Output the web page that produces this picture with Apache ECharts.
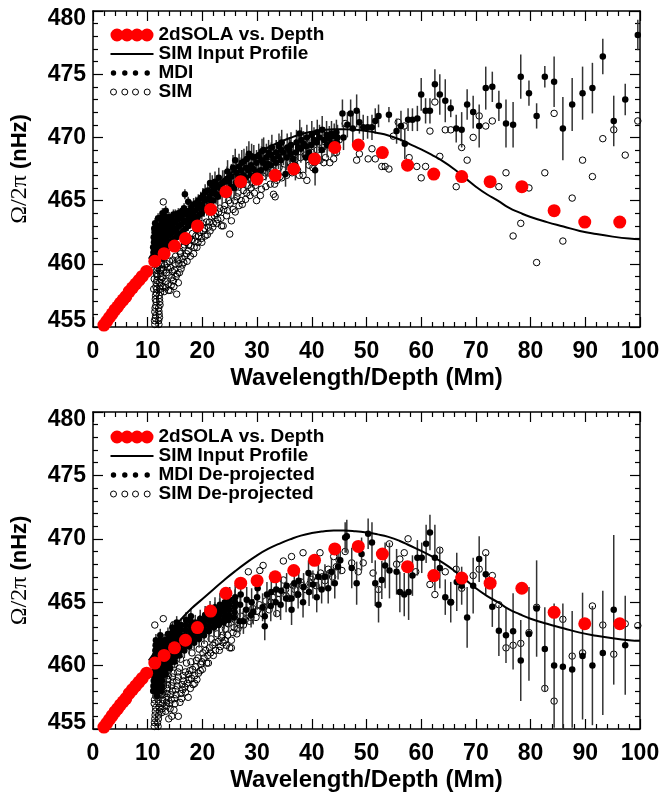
<!DOCTYPE html>
<html><head><meta charset="utf-8">
<script src="https://cdn.jsdelivr.net/npm/echarts@6/dist/echarts.min.js"></script>
<style>html,body{margin:0;padding:0;background:#fff}#c{width:663px;height:793px}</style>
</head><body><div id="c"></div>
<script>
// ---- data ----
const solaDepth = [2.0,2.5,3.0,3.5,4.0,4.5,5.0,5.5,6.0,6.6,7.2,7.8,8.4,9.0,9.8,11.3,13.0,14.9,16.9,19.1,21.5,24.3,27.0,30.0,33.3,36.7,40.5,44.2,48.5,52.9,57.5,62.3,67.4,72.6,78.4,84.3,89.9,96.3];
const solaOmega = [455.15,455.45,455.75,456.05,456.35,456.6,456.9,457.15,457.4,457.8,458.1,458.4,458.7,459.0,459.4,460.2,460.8,461.4,462.0,463.0,464.3,465.7,466.5,466.7,467.0,467.5,468.3,469.2,469.4,468.8,467.8,467.1,466.9,466.5,466.1,464.2,463.3,463.3];

const profileDepth = [10.2,12,14,16,18,20,22,24,26,28,30,32,34,36,38,40,42,44,46,48,50,52,54,56,58,60,62,64,66,68,70,72,74,76,78,80,83,86,89,92,95,98,100];
const profileOmega = [460.4,461.45,462.55,463.6,464.5,465.25,466.0,466.75,467.45,468.1,468.7,469.2,469.6,469.95,470.25,470.45,470.58,470.65,470.65,470.6,470.5,470.35,470.15,469.85,469.45,469.05,468.6,468.1,467.5,466.8,466.1,465.5,465.0,464.45,464.05,463.7,463.3,462.95,462.6,462.35,462.15,462.0,461.95];

// [depth, omega, error]
const mdiTop = [
[10.9,460.5,.4],[11.0,461.3,.4],[11.1,462.1,.4],[11.2,462.8,.4],[11.5,460.2,.4],[11.6,461.0,.4],[11.7,461.8,.4],[11.8,462.6,.4],[11.9,463.6,.4],[12.2,460.6,.4],[12.3,461.4,.4],[12.4,462.2,.4],[12.5,463.0,.4],[12.6,463.7,.4],[12.9,461.0,.4],[13.0,461.8,.4],[13.1,462.6,.4],[13.2,463.3,.4],[13.3,464.2,.4],[13.6,461.4,.4],[13.7,462.2,.4],[13.8,463.0,.4],[13.9,463.7,.4],[14.4,461.8,.4],[14.5,462.5,.4],[14.6,463.2,.4],[14.7,463.9,.4],[15.2,462.1,.4],[15.3,462.8,.4],[15.4,463.5,.4],[15.6,464.0,.4],[16.0,462.4,.4],[16.1,463.1,.4],[16.2,463.7,.4],[16.3,464.2,.4],[16.8,465.5,.4],[16.9,462.8,.4],[17.0,463.4,.4],[17.1,464.0,.4],[17.4,464.9,.4],[17.8,463.2,.4],[17.9,463.8,.4],[18.0,464.5,.5],[18.6,463.6,.5],[18.7,464.2,.5],[18.8,464.8,.5],[19.5,463.9,.5],[19.6,464.6,.5],[19.7,465.2,.5],[20.3,464.3,.6],[20.4,465.0,.6],[20.5,465.7,.6],
[11.05,460.9,.4],[11.15,461.7,.4],[11.25,462.5,.4],[11.35,463.2,.4],[11.55,460.6,.4],[11.65,461.4,.4],[11.75,462.2,.4],[11.85,463.0,.4],[12.05,460.3,.4],[12.25,461.0,.4],[12.35,461.8,.4],[12.45,462.6,.4],[12.55,463.3,.4],[12.7,464.0,.4],[12.75,460.4,.4],[12.95,461.4,.4],[13.05,462.2,.4],[13.15,463.0,.4],[13.25,463.7,.4],[13.45,461.0,.4],[13.55,461.8,.4],[13.75,462.6,.4],[13.85,463.4,.4],[14.1,461.6,.4],[14.2,462.3,.4],[14.3,463.0,.4],[14.35,463.6,.4],[14.85,461.9,.4],[14.95,462.6,.4],[15.0,463.3,.4],[15.05,463.9,.4],[15.6,462.3,.4],[15.7,463.0,.4],[15.8,463.6,.4],[16.5,462.6,.4],[16.55,463.3,.4],[16.6,463.9,.4],[16.65,464.4,.4],[17.4,463.0,.4],[17.5,463.6,.4],[17.55,464.2,.4],[18.2,463.4,.5],[18.3,464.0,.5],[18.4,464.7,.5],[19.1,463.7,.5],[19.2,464.4,.5],[19.25,465.0,.5],[19.9,464.0,.5],[20.0,464.7,.5],[20.1,465.4,.6],[20.8,464.4,.6],[20.9,465.1,.6],[21.0,465.8,.7],[21.6,465.0,.7],[21.7,465.6,.7],[21.8,466.2,.8],[22.5,465.5,.8],[22.6,466.2,.8],
[21.2,464.6,.7],[21.3,465.3,.8],[21.4,466.4,.8],[22.0,465.0,.8],[22.1,465.8,.8],[22.3,466.5,.8],[22.8,465.3,.9],[22.9,466.1,.9],[23.0,466.8,.8],[23.6,465.6,.9],[23.7,466.4,1],[24.4,465.9,1],[24.5,466.7,1],[24.6,467.3,.9],[25.2,466.1,1],[25.3,466.9,1],[26.0,468.2,.9],[26.1,466.4,1],[26.2,467.2,1],[27.0,466.6,1],[27.1,467.4,1],[27.2,468.0,1],[27.9,466.8,1],[28.0,467.6,1.1],[28.1,468.3,1],[28.8,467.0,1],[28.9,467.8,1.1],[29.0,468.5,1],[29.8,467.2,1],[29.9,468.0,1],[30.7,467.4,1],[30.8,468.2,1.1],[30.9,468.9,1],[31.6,467.6,1],[31.7,468.4,1.1],[32.5,467.8,1.1],[32.6,468.6,1],[32.7,469.2,1],[33.4,468.0,1.1],[33.5,468.8,1],[34.3,468.2,1],[34.4,469.0,1.1],[34.5,469.6,1],[35.2,467.1,1],[35.4,468.4,1],[35.5,469.2,1.1],[36.1,468.7,1.1],[36.2,469.4,1],[37.0,467.8,1.2],[37.1,468.8,1.1],[37.2,469.6,1],[37.8,470.3,1.1],[38.0,469.1,1.1],[38.1,469.8,1],[38.9,468.4,1.2],[39.0,469.3,1.1],[39.1,470.0,1],[39.9,469.4,1],[40.0,470.2,1.1],[40.6,467.4,1.2],[40.9,469.6,1],[41.0,470.4,1],[41.8,469.0,1],[41.9,470.6,1.1],[42.7,470.2,1.1],[42.8,469.4,1],[43.6,470.3,1],[43.7,469.5,1],[44.5,470.4,1],[44.6,469.6,1.1],[44.7,470.0,1],[45.8,470.0,1],[46.5,471.0,1],[47.5,470.7,1.2],
[23.3,466.0,.9],[24.0,466.5,.9],[24.9,466.5,1],[25.6,467.6,1],[25.8,466.0,1],[26.6,466.9,1],[26.7,467.7,1],[27.5,467.0,1],[27.6,468.1,1],[28.4,467.4,1],[28.5,468.7,1],[29.3,467.5,1],[29.4,468.4,1],[30.2,467.3,1],[30.3,468.5,1],[31.1,468.0,1],[31.2,469.0,1],[32.0,467.9,1],[32.1,468.8,1],[33.0,468.3,1],[33.9,468.5,1],[34.0,469.3,1],[34.8,468.8,1],[35.9,469.0,1],[36.6,468.3,1],[37.5,469.2,1],[38.5,469.5,1],[39.5,468.8,1],[40.4,469.8,1],[41.4,470.0,1],[42.3,469.8,1],[43.2,469.9,1],[44.1,470.1,1],
[45.6,471.9,1.1],[47.1,471.9,1.1],[48.2,472.1,1.3],[48.7,471.2,0.9],[49.4,470.8,1.0],[50.2,470.8,0.9],[51.0,470.8,1.0],[51.6,471.3,1.0],[52.2,471.7,0.9],[54.1,471.8,0.6],[55.5,470.5,1.0],[56.3,470.9,1.2],[57.0,469.5,1.2],[57.6,471.4,0.9],[58.4,471.4,0.9],[59.3,471.5,1.0],[60.0,473.4,1.3],[60.8,472.1,1.0],[61.6,472.1,1.0],[62.5,474.2,1.2],[63.4,473.4,1.6],[64.4,472.9,1.7],[65.4,472.3,0.7],[66.4,470.7,1.1],[67.4,470.6,1.4],[68.4,472.6,1.2],[69.5,472.0,1.3],[70.6,470.9,1.7],[71.8,473.9,1.7],[73.0,474.0,1.2],[74.2,472.5,1.2],[75.5,471.1,1.9],[76.8,471.0,1.8],[78.2,474.8,1.75],[79.7,473.5,1.0],[81.1,471.7,1.0],[82.6,474.8,0.85],[84.3,474.4,2.0],[85.9,470.7,2.5],[87.6,472.6,2.1],[89.5,473.5,2.1],[91.3,473.9,2.0],[93.2,476.4,1.4],[95.2,471.3,2.0],[97.3,473.0,1.25],[99.6,478.1,1.2]
];

const simTop = [
[11.3,455.2],[11.4,455.7],[11.3,456.2],[11.5,456.7],[11.4,457.2],[11.6,457.7],[11.5,458.2],[11.7,458.7],[11.6,459.2],[11.8,459.7],[12.0,455.5],[12.1,456.0],[12.0,456.5],[12.2,457.0],[12.1,457.5],[12.3,458.0],[12.2,458.5],[12.4,459.0],[12.3,459.5],[12.5,460.0],[12.85,464.9],
[11.25,455.5],[11.45,455.9],[11.35,456.5],[11.55,457.0],[11.45,457.5],[11.65,458.0],[11.55,458.5],[11.75,459.0],[11.65,459.5],[11.9,459.9],[11.1,459.5],[11.2,458.8],[11.1,458.0],[12.05,455.2],[12.15,455.75],[12.05,456.25],[12.25,456.75],[12.15,457.25],[12.35,457.75],[12.25,458.25],[12.45,458.75],[12.35,459.25],[12.55,459.6],[12.7,458.9],[12.9,459.5],[13.1,459.9],[13.3,458.1],[13.6,459.7],[13.8,457.9],[14.0,460.2],[14.3,458.3],[14.5,459.4],[14.8,458.2],[15.0,460.0],[15.2,459.0],[15.5,460.3],[15.8,459.3],[16.0,460.8],[16.3,459.9],[16.6,460.1],[16.7,461.5],[17.1,460.8],[17.5,461.5],[17.8,460.6],[18.0,461.9],[18.5,461.3],[18.8,462.2],[19.2,461.7],[19.5,462.5],[19.8,462.0],[20.0,463.2],[20.4,462.8],[20.9,462.3],[21.3,463.3],[21.9,462.9],[22.2,463.8],[22.6,463.2],[23.0,464.1],[23.4,463.6],[23.9,464.3],[24.6,464.2],[25.1,464.8],[25.9,465.0],[26.5,465.6],[27.3,464.7],[28.1,465.6],[28.9,466.0],[29.7,466.2],[30.6,465.4],[31.4,467.2],[33.2,466.3],[34.2,466.9],[36.2,467.7],[37.7,467.0],[40.2,467.6],[42.2,468.0],[44.0,468.3],
[12.8,458.2],[13.0,457.8],[13.2,458.6],[13.4,459.3],[13.5,460.0],[13.7,458.4],[13.9,459.1],[14.1,457.9],[14.2,459.7],[14.4,458.9],[14.6,460.3],[14.7,458.65],[14.9,459.5],[15.1,460.6],[15.3,457.6],[15.4,459.2],[15.6,458.5],[15.7,460.0],[15.9,461.0],[16.1,459.6],[16.3,460.4],[16.5,461.3],[16.8,460.6],[17.0,461.7],[17.2,460.2],[17.4,461.0],[17.6,462.0],[17.9,461.4],[18.2,462.4],[18.4,460.8],[18.6,461.8],[18.9,462.7],[19.0,461.3],[19.3,462.2],[19.6,463.0],[19.9,461.7],[20.2,462.6],[20.5,462.2],[20.7,463.3],[21.1,462.9],[21.4,462.6],[21.7,463.7],[22.0,463.2],[22.4,464.0],[22.8,463.5],[23.2,464.4],[23.5,463.0],[23.8,463.0],[24.1,464.6],[24.4,463.8],[24.8,465.0],[25.0,462.35],[25.3,463.4],[25.6,464.3],[26.0,464.1],[26.3,465.3],[26.7,464.6],[27.1,465.0],[27.5,465.8],[27.9,465.1],[28.3,466.2],[28.7,465.4],[29.1,466.4],[29.5,465.6],[29.9,465.0],[30.2,466.7],[30.5,468.6],[30.8,465.9],[31.2,466.9],[31.6,466.1],[31.8,468.4],[32.0,467.2],[32.4,466.3],[32.8,467.4],[33.0,465.5],[33.3,465.3],[33.6,466.6],[34.0,467.6],[34.5,466.8],[35.0,467.9],[35.4,467.0],[35.9,468.0],[36.4,467.2],[36.9,468.2],[37.4,467.4],[37.9,468.4],[38.4,467.0],[38.8,468.6],[39.1,466.6],[39.5,467.8],[39.7,469.8],[40.0,468.8],[40.5,468.0],[41.0,469.0],[41.5,468.2],[42.0,469.2],[42.5,468.4],[43.0,469.4],[43.3,468.0],[43.9,469.5],[44.5,468.8],[45.0,469.8],
[46.1,471.1],[48.2,468.2],[48.7,468.7],[50.3,468.3],[51.0,469.1],[51.6,468.3],[52.8,467.7],[53.4,467.7],[54.1,467.5],[54.9,470.1],[55.8,471.2],[56.9,470.9],[57.8,468.4],[59.2,467.7],[60.0,466.8],[60.8,467.7],[61.6,470.5],[62.5,472.8],[63.4,468.5],[64.4,470.6],[65.4,470.6],[66.4,466.1],[67.4,469.2],[68.4,468.2],[69.5,470.0],[70.6,471.7],[71.8,470.9],[73.0,471.3],[74.2,466.1],[75.5,467.2],[76.8,462.2],[78.2,463.2],[79.7,466.0],[81.1,460.1],[82.6,467.2],[84.3,471.9],[85.9,461.8],[87.6,465.2],[89.5,468.2],[91.3,466.9],[93.2,469.9],[95.2,470.6],[97.3,468.6],[99.6,471.3]
];

const mdiBottom = [
[11.0,458.0,.5],[11.1,458.8,.5],[11.2,459.6,.5],[11.3,460.4,.5],[11.4,461.2,.5],[11.5,462.0,.5],[11.7,457.6,.5],[11.8,458.4,.5],[11.9,459.2,.5],[12.0,460.0,.5],[12.1,460.8,.5],[12.2,461.6,.5],[12.3,462.4,.5],[12.5,458.0,.5],[12.6,458.8,.5],[12.7,459.6,.5],[12.8,460.4,.5],[12.9,461.2,.5],[13.0,462.0,.5],[13.3,459.3,.5],[13.4,460.1,.5],[13.5,460.9,.5],[13.6,461.7,.5],[13.7,462.5,.5],[14.1,459.8,.5],[14.2,460.6,.5],[14.3,461.4,.5],[14.4,462.2,.5],[14.5,463.0,.5],[14.9,460.3,.5],[15.0,461.1,.5],[15.1,461.9,.5],[15.2,462.7,.5],[15.3,463.4,.5],[15.8,460.8,.5],[15.9,461.6,.5],[16.0,462.4,.5],[16.1,463.2,.5],[16.7,461.2,.6],[16.8,462.0,.6],[16.9,462.8,.6],[17.0,463.6,.6],[17.6,461.5,.6],[17.7,462.3,.6],[17.8,463.1,.6],[17.9,463.9,.6],[18.5,461.8,.6],[18.6,462.6,.6],[18.7,463.4,.6],[19.4,462.1,.7],[19.5,462.9,.7],[19.6,463.7,.7],[20.3,462.4,.7],[20.4,463.2,.7],[20.5,464.0,.7],[21.2,462.7,.8],[21.3,463.5,.8],[21.4,464.3,.8],[22.1,463.0,.8],[22.2,463.8,.8],[22.3,464.6,.8],[23.0,463.2,.9],[23.1,464.0,.9],[23.2,464.8,.9],[23.9,463.4,.9],[24.0,464.2,.9],[24.1,465.0,.9],[24.8,463.6,1],[24.9,464.4,1],[25.0,465.2,1],[25.8,463.8,1],[25.9,464.6,1],[26.0,465.4,1],[26.8,463.5,1],[26.9,464.8,1],[27.0,465.6,1],[27.5,463.5,1],[28.0,464.4,1],[28.1,465.2,1],[28.9,464.0,1],[29.0,465.0,1.1],[29.3,464.25,1],[30.0,465.4,1],[30.1,466.1,1],[31.0,464.6,1.1],[31.4,463.1,1.1],[31.4,463.9,1],[31.8,465.6,1],[32.5,464.7,1.2],[32.6,465.8,1],[33.4,465.0,1.1],[33.5,466.0,1],[34.3,464.8,1.2],[34.4,465.9,1],[35.3,465.3,1.1],[35.4,466.3,1],[36.3,465.3,1.1],[36.3,464.4,1.2],[36.8,466.5,1],[37.5,465.6,1.1],[37.6,466.7,1],[38.4,465.0,1.2],[38.5,466.2,1.1],[39.4,467.3,1],[39.5,465.8,1.1],[40.2,466.4,1.1],[40.9,465.4,1.2],[41.2,467.0,1],[41.8,466.0,1.1],[42.4,467.0,1],[43.0,466.1,1.2],[43.6,467.4,1.1],[44.2,466.5,1.2],[44.8,467.8,1],[45.2,468.3,1.1],
[11.05,458.4,.5],[11.15,459.2,.5],[11.25,460.0,.5],[11.35,460.8,.5],[11.45,461.6,.5],[11.75,458.0,.5],[11.85,458.8,.5],[11.95,459.6,.5],[12.05,460.4,.5],[12.15,461.2,.5],[12.25,462.0,.5],[12.55,458.4,.5],[12.65,459.2,.5],[12.75,460.0,.5],[12.85,460.8,.5],[12.95,461.6,.5],[13.35,459.7,.5],[13.45,460.5,.5],[13.55,461.3,.5],[13.65,462.1,.5],[14.15,460.2,.5],[14.25,461.0,.5],[14.35,461.8,.5],[14.45,462.6,.5],[14.95,460.7,.5],[15.05,461.5,.5],[15.15,462.3,.5],[15.25,463.0,.5],[15.85,461.2,.5],[15.95,462.0,.5],[16.05,462.8,.5],[16.75,461.6,.6],[16.85,462.4,.6],[16.95,463.2,.6],[17.65,461.9,.6],[17.75,462.7,.6],[17.85,463.5,.6],[18.55,462.2,.6],[18.65,463.0,.6],[19.45,462.5,.7],[19.55,463.3,.7],[20.35,462.8,.7],[20.45,463.6,.7],[21.25,463.1,.8],[21.35,463.9,.8],[22.15,463.4,.8],[22.25,464.2,.8],[23.05,463.6,.9],[23.15,464.4,.9],[24.0,463.8,.9],[24.05,464.6,.9],[24.85,464.0,1],[24.95,464.8,1],[25.9,464.2,1],[25.95,465.0,1],
[46.1,470.1,1.2],[46.4,470.2,1.3],[47.3,467.7,1.6],[48.2,466.5,1.7],[49.1,468.8,1.3],[50.3,470.4,1.2],[51.0,469.7,1.6],[51.6,466.5,1.8],[52.2,464.8,1.4],[52.8,466.75,1.5],[53.4,467.9,1.8],[54.2,467.5,2.2],[55.5,467.4,1.8],[56.1,465.8,1.6],[56.9,465.6,1.7],[57.7,465.8,2.2],[58.4,467.1,1.6],[59.3,468.5,1.4],[60.1,468.5,1.2],[60.9,469.6,1.5],[61.6,470.5,1.4],[62.5,468.5,2.6],[63.4,467.7,1.6],[64.4,465.4,1.4],[65.4,465.0,1.6],[66.5,466.6,2.3],[67.4,466.3,1.5],[68.4,463.8,2.4],[69.5,466.3,2.2],[70.6,468.4,1.8],[71.8,467.2,1.6],[73.0,464.65,1.6],[74.2,462.75,2.0],[75.5,462.4,2.2],[76.8,462.7,3.0],[78.2,460.4,3.2],[79.7,462.5,3.7],[81.1,464.5,3.8],[82.6,461.3,3.3],[84.3,460.0,4.9],[85.9,459.9,5.0],[87.6,459.7,4.6],[89.5,460.75,5.0],[91.3,460.0,4.7],[93.2,461.0,4.9],[95.2,464.4,5.9],[97.3,461.6,3.9]
];

const simBottom = [
[11.2,455.2],[11.3,455.8],[11.4,456.4],[11.2,457.0],[11.5,457.6],[11.3,458.2],[11.6,458.8],[11.4,459.4],[11.7,460.0],[11.5,460.6],[11.3,463.2],[11.8,455.5],[12.0,456.1],[12.1,456.7],[11.9,457.3],[12.2,457.9],[12.0,458.5],[12.3,459.1],[12.1,459.7],[12.4,460.3],[12.2,461.0],[12.85,463.7],[12.6,456.3],[12.7,457.0],[12.8,457.7],[12.9,458.4],[13.0,459.1],[13.1,459.8],[13.2,460.5],[13.4,456.8],[13.5,457.5],[13.6,458.2],[13.7,458.9],[13.8,459.6],[13.9,460.3],[14.1,456.6],[14.3,457.3],[14.4,456.0],[14.5,458.0],[14.6,458.7],[14.7,459.4],[14.7,463.2],[14.9,460.1],[15.0,457.0],[15.2,457.7],[15.4,458.4],[15.6,456.0],[15.6,459.1],[15.8,459.8],[16.0,460.5],[16.2,457.4],[16.4,458.1],[16.6,458.8],[16.8,458.3],[16.9,459.5],[17.1,460.2],[17.4,457.5],[17.5,458.9],[17.7,459.6],[17.9,460.3],[18.1,461.0],[18.3,458.5],[18.6,459.2],[18.8,459.9],[19.0,458.9],[19.2,460.6],[19.4,461.3],[19.6,459.6],[19.9,460.3],[20.1,461.0],[20.4,461.7],[20.8,460.2],[21.1,460.2],[21.3,461.4],[21.6,462.1],[22.0,460.8],[22.3,461.8],[22.7,462.5],[23.1,461.2],[23.5,462.2],[23.8,461.8],[24.2,462.9],[24.4,461.6],[24.7,463.3],[25.0,461.4],[25.3,461.4],[25.6,462.6],[26.0,463.6],[26.5,462.9],[27.0,463.9],[27.5,463.2],[28.0,464.2],[28.4,467.4],[28.6,463.5],[29.2,464.5],[29.8,463.8],[30.5,467.5],[30.4,464.8],[31.1,467.9],[31.0,464.1],[31.6,465.1],[32.2,464.4],[32.8,465.4],[33.6,464.1],[34.0,465.7],[34.8,466.75],[34.8,468.25],[35.2,466.0],[35.8,465.3],[36.3,468.6],[36.6,466.3],[37.4,465.6],[38.0,466.6],[38.4,468.9],[38.8,466.0],[39.7,466.5],[40.2,467.0],[40.8,466.3],[41.5,468.9],[41.6,467.3],[42.4,466.7],[43.0,467.6],[43.8,467.0],[44.5,467.8],[45.0,468.3],
[11.25,455.5],[11.35,456.1],[11.45,456.7],[11.25,457.3],[11.55,457.9],[11.35,458.5],[11.65,459.1],[11.45,459.7],[11.75,460.3],[11.9,455.2],[11.95,455.8],[12.15,456.4],[12.05,457.0],[12.25,457.6],[12.15,458.2],[12.35,458.8],[12.45,459.4],[12.65,456.6],[12.75,457.3],[12.85,458.0],[12.95,458.7],[13.05,459.4],[13.3,456.4],[13.45,457.1],[13.55,457.8],[13.65,458.5],[13.75,459.2],[13.85,455.8],[14.0,457.0],[14.2,457.7],[14.4,458.4],[14.55,459.1],[14.8,456.5],[14.9,457.4],[15.1,458.1],[15.3,458.8],[15.5,459.5],[15.9,457.1],[16.1,457.8],[16.3,458.5],[16.5,459.2],[16.9,457.9],[17.2,458.6],[17.4,459.3],[17.8,458.2],[18.0,459.0],[18.2,459.7],[18.6,458.6],[18.9,460.4],[19.3,459.4],[19.7,460.1],[20.0,459.7],[20.3,460.6],[20.6,461.2],[21.0,460.8],[21.5,461.0],[21.9,461.6],[22.4,461.2],[22.9,461.9],[23.3,461.5],[23.7,462.4],[24.1,462.0],[24.6,462.4],[25.3,462.0],[25.8,463.0],[26.3,462.5],[26.9,463.2],[27.8,463.6],[28.9,463.8],[30.0,464.3],[31.3,464.6],[32.5,465.0],[33.9,465.2],[35.3,465.5],[36.9,466.0],[38.3,466.3],[39.9,466.8],[41.9,467.0],[43.3,467.3],[44.0,468.6],[45.5,467.5],
[46.1,469.0],[47.3,468.1],[48.5,467.4],[49.4,468.1],[51.2,467.3],[52.2,466.0],[54.2,469.6],[55.5,468.0],[56.1,468.4],[56.9,468.9],[57.6,470.0],[59.0,467.4],[61.6,466.4],[62.5,465.6],[63.4,469.1],[64.4,467.4],[65.4,465.0],[66.4,467.6],[67.4,466.1],[69.5,467.1],[70.6,467.6],[71.8,468.9],[73.0,467.1],[74.2,464.8],[75.5,461.4],[76.8,461.6],[78.2,461.75],[79.7,462.6],[81.1,464.6],[82.6,458.2],[84.3,457.2],[85.9,463.65],[87.6,460.75],[89.5,461.0],[91.3,464.7],[93.2,463.2],[95.2,460.9],[97.3,463.3],[99.6,463.15]
];

const xRange = [0, 100], xStep = 10;
const yRange = [455, 480], yStep = 5;

// ---- chart ----
const FONT = '"Liberation Sans", Arial, Helvetica, sans-serif';
const sola = solaDepth.map((d, i) => [d, solaOmega[i]]);
const profile = profileDepth.map((d, i) => [d, profileOmega[i]]);

const axisLineStyle = {color: '#000', width: 1.5};
function xAxes(g) {
  const base = {gridIndex: g, type: 'value', min: xRange[0], max: xRange[1], interval: xStep,
    axisLine: {show: true, onZero: false, lineStyle: axisLineStyle},
    axisTick: {show: true, inside: true, length: 10, lineStyle: {color: '#000', width: 1.2}},
    minorTick: {show: true, splitNumber: 5, length: 5, lineStyle: {color: '#000', width: 1.2}},
    splitLine: {show: false}, minorSplitLine: {show: false}};
  return [
    Object.assign({}, base, {position: 'bottom', name: 'Wavelength/Depth (Mm)', nameLocation: 'middle', nameGap: 39,
      nameTextStyle: {fontFamily: FONT, fontWeight: 'bold', fontSize: 24, color: '#000'},
      axisLabel: {margin: 13, fontFamily: FONT, fontWeight: 'bold', fontSize: 23, color: '#000'}}),
    Object.assign({}, base, {position: 'top', axisLabel: {show: false}})
  ];
}
function yAxes(g) {
  const base = {gridIndex: g, type: 'value', min: yRange[0], max: yRange[1], interval: yStep,
    axisLine: {show: true, onZero: false, lineStyle: axisLineStyle},
    axisTick: {show: true, inside: true, length: 10, lineStyle: {color: '#000', width: 1.2}},
    minorTick: {show: true, splitNumber: 5, length: 5, lineStyle: {color: '#000', width: 1.2}},
    splitLine: {show: false}, minorSplitLine: {show: false}};
  const lab = {fontFamily: FONT, fontWeight: 'bold', fontSize: 23, color: '#000'};
  return [
    Object.assign({}, base, {position: 'left', name: '{g|Ω/2π} {b|(nHz)}', nameLocation: 'middle', nameGap: 61, nameRotate: 90,
      nameTextStyle: {fontFamily: FONT, fontWeight: 'bold', fontSize: 22, color: '#000',
        rich: {g: {fontFamily: '"Liberation Serif", "DejaVu Serif", serif', fontSize: 24, fontWeight: 'normal', color: '#000'},
               b: {fontFamily: FONT, fontSize: 22, fontWeight: 'bold', color: '#000'}}},
      axisLabel: Object.assign({margin: 7,
        formatter: v => v === yRange[1] ? '{t|' + v + '}' : (v === yRange[0] ? '{u|' + v + '}' : String(v)),
        rich: {t: Object.assign({padding: [15, 0, 0, 0]}, lab), u: Object.assign({padding: [0, 0, 13, 0]}, lab)}}, lab)}),
    Object.assign({}, base, {position: 'right', axisLabel: {show: false}})
  ];
}

const redIcon = 'path://M0,6.5a6.5,6.5 0 1,0 13,0a6.5,6.5 0 1,0 -13,0Z M10,6.5a6.5,6.5 0 1,0 13,0a6.5,6.5 0 1,0 -13,0Z M20,6.5a6.5,6.5 0 1,0 13,0a6.5,6.5 0 1,0 -13,0Z M30,6.5a6.5,6.5 0 1,0 13,0a6.5,6.5 0 1,0 -13,0Z';
const lineIcon = 'path://M0,0 M43,13 M0,5.5H43V7.5H0Z';
const dotIcon = 'path://M0,0 M43,13 M0.3,6.5a2.7,2.7 0 1,0 5.4,0a2.7,2.7 0 1,0 -5.4,0Z M11.6,6.5a2.7,2.7 0 1,0 5.4,0a2.7,2.7 0 1,0 -5.4,0Z M22.3,6.5a2.7,2.7 0 1,0 5.4,0a2.7,2.7 0 1,0 -5.4,0Z M34,6.5a2.7,2.7 0 1,0 5.4,0a2.7,2.7 0 1,0 -5.4,0Z';
const ringIcon = 'path://M0,0 M43,13 M0,6.5a3,3 0 1,0 6,0a3,3 0 1,0 -6,0Z M11.3,6.5a3,3 0 1,0 6,0a3,3 0 1,0 -6,0Z M22,6.5a3,3 0 1,0 6,0a3,3 0 1,0 -6,0Z M33.7,6.5a3,3 0 1,0 6,0a3,3 0 1,0 -6,0Z';

function legend(top, names) {
  return {left: 110, top: top, orient: 'vertical', padding: 0, itemGap: 0, itemWidth: 43, itemHeight: 13,
    selectedMode: false,
    textStyle: {fontFamily: FONT, fontWeight: 'bold', fontSize: 19, color: '#000', lineHeight: 19},
    data: [
      {name: names[0], icon: redIcon, itemStyle: {color: '#ff0000', borderWidth: 0, opacity: 1}},
      {name: names[1], icon: lineIcon, itemStyle: {color: '#000', borderWidth: 0, opacity: 1}},
      {name: names[2], icon: dotIcon, itemStyle: {color: '#000', borderWidth: 0, opacity: 1}},
      {name: names[3], icon: ringIcon, itemStyle: {color: 'rgba(0,0,0,0)', borderColor: '#000', borderWidth: 1, opacity: 1}}
    ]};
}

function panelSeries(g, mdi, sim, mdiName, simName) {
  return [
    {type: 'scatter', name: simName, xAxisIndex: 2 * g, yAxisIndex: 2 * g, data: sim, symbol: 'circle', symbolSize: 6.5,
      itemStyle: {color: 'rgba(0,0,0,0)', borderColor: '#000', borderWidth: 1, opacity: 1}, z: 2, silent: true},
    {type: 'custom', name: mdiName + ' err', xAxisIndex: 2 * g, yAxisIndex: 2 * g, data: mdi, encode: {x: 0, y: 1},
      clip: true, z: 3, silent: true,
      renderItem: (params, api) => {
        const x = api.value(0), y = api.value(1), e = api.value(2);
        const p1 = api.coord([x, y - e]), p2 = api.coord([x, y + e]);
        return {type: 'line', shape: {x1: p1[0], y1: p1[1], x2: p2[0], y2: p2[1]}, style: {stroke: '#333', lineWidth: 1.5}};
      }},
    {type: 'scatter', name: mdiName, xAxisIndex: 2 * g, yAxisIndex: 2 * g, data: mdi, symbol: 'circle', symbolSize: 6.5,
      itemStyle: {color: '#000', opacity: 1}, z: 4, silent: true},
    {type: 'line', name: 'SIM Input Profile', xAxisIndex: 2 * g, yAxisIndex: 2 * g, data: profile, smooth: true,
      showSymbol: false, lineStyle: {color: '#000', width: 2}, itemStyle: {color: '#000'}, z: 5, silent: true},
    {type: 'scatter', name: '2dSOLA vs. Depth', xAxisIndex: 2 * g, yAxisIndex: 2 * g, data: sola, symbol: 'circle', symbolSize: 13,
      itemStyle: {color: '#ff0000', opacity: 1}, z: 6, silent: true}
  ];
}

const chart = echarts.init(document.getElementById('c'), null, {renderer: 'canvas'});
chart.setOption({
  animation: false,
  backgroundColor: '#fff',
  grid: [
    {left: 93, top: 11, width: 547, height: 316},
    {left: 93, top: 412, width: 547, height: 317}
  ],
  xAxis: xAxes(0).concat(xAxes(1)),
  yAxis: yAxes(0).concat(yAxes(1)),
  legend: [
    legend(25.5, ['2dSOLA vs. Depth', 'SIM Input Profile', 'MDI', 'SIM']),
    legend(427.5, ['2dSOLA vs. Depth', 'SIM Input Profile', 'MDI De-projected', 'SIM De-projected'])
  ],
  series: panelSeries(0, mdiTop, simTop, 'MDI', 'SIM').concat(panelSeries(1, mdiBottom, simBottom, 'MDI De-projected', 'SIM De-projected'))
});
</script>
</body></html>
